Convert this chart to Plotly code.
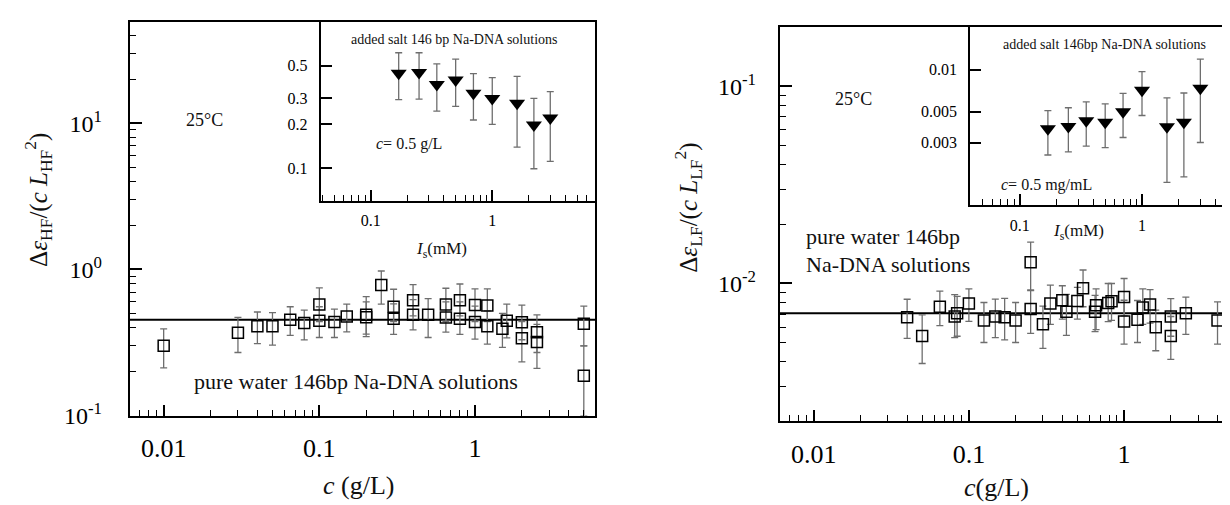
import plotly.graph_objects as go
import numpy as np

W, H = 1230, 505
FONT = "Liberation Serif, Times New Roman, Times, DejaVu Serif, serif"

# ---------------- data ----------------
# left main panel: HF amplitude, pure water
hf_c = [0.01, 0.03, 0.04, 0.05, 0.065, 0.08, 0.10, 0.10, 0.125, 0.15, 0.20, 0.20, 0.25,
        0.30, 0.30, 0.40, 0.40, 0.50, 0.65, 0.65, 0.80, 0.80, 1.0, 1.0, 1.2, 1.2, 1.5, 1.6,
        2.0, 2.0, 2.5, 2.5, 5.0, 5.0]
hf_val = [0.30, 0.369, 0.408, 0.408, 0.452, 0.43, 0.575, 0.445, 0.436, 0.476, 0.489, 0.47, 0.782,
          0.555, 0.46, 0.615, 0.489, 0.489, 0.575, 0.469, 0.615, 0.46, 0.57, 0.436, 0.567, 0.408,
          0.392, 0.445, 0.434, 0.338, 0.372, 0.319, 0.425, 0.187]
hf_hi = [0.392, 0.469, 0.511, 0.506, 0.555, 0.527, 0.747, 0.555, 0.535, 0.578, 0.65, 0.60, 0.975,
         0.731, 0.58, 0.786, 0.62, 0.631, 0.743, 0.60, 0.794, 0.60, 0.735, 0.56, 0.735, 0.52,
         0.50, 0.578, 0.57, 0.44, 0.488, 0.42, 0.56, 0.30]
hf_lo = [0.212, 0.27, 0.31, 0.303, 0.354, 0.329, 0.44, 0.342, 0.342, 0.374, 0.36, 0.347, 0.578,
         0.44, 0.359, 0.48, 0.386, 0.342, 0.44, 0.372, 0.48, 0.359, 0.44, 0.333, 0.44, 0.308,
         0.293, 0.34, 0.33, 0.233, 0.27, 0.21, 0.30, 0.10]
hf_ref = 0.452

# left inset: HF, added salt
salt_is = [0.17, 0.25, 0.35, 0.5, 0.7, 1.0, 1.6, 2.2, 3.0]
hf_salt = [0.445, 0.45, 0.372, 0.40, 0.325, 0.299, 0.277, 0.197, 0.22]
hf_salt_hi = [0.613, 0.613, 0.514, 0.555, 0.442, 0.415, 0.423, 0.299, 0.333]
hf_salt_lo = [0.293, 0.296, 0.245, 0.264, 0.213, 0.199, 0.139, 0.099, 0.111]

# right main panel: LF amplitude, pure water
lf_c = [0.040, 0.050, 0.065, 0.081, 0.084, 0.10, 0.125, 0.148, 0.17, 0.20, 0.25, 0.25, 0.30,
        0.335, 0.40, 0.425, 0.50, 0.544, 0.66, 0.65, 0.79, 0.83, 1.0, 1.0, 1.22, 1.32, 1.47,
        1.6, 2.0, 2.0, 2.5, 4.0, 4.8]
lf_val = [0.00675, 0.00542, 0.00762, 0.0068, 0.00706, 0.00791, 0.0065, 0.0068, 0.00675, 0.0065,
          0.0128, 0.00742, 0.00621, 0.00791, 0.00822, 0.00719, 0.00815, 0.00946, 0.00776, 0.00719,
          0.00797, 0.00812, 0.00853, 0.00642, 0.00654, 0.00756, 0.00783, 0.006, 0.0068, 0.00542,
          0.00706, 0.0065, 0.0067]
lf_hi = [0.00832, 0.00693, 0.00914, 0.00877, 0.0086, 0.00938, 0.00801, 0.00834, 0.0084, 0.00801,
         0.0162, 0.00928, 0.00768, 0.00982, 0.00974, 0.0088, 0.00956, 0.0117, 0.0094, 0.0087,
         0.0100, 0.0100, 0.0106, 0.00822, 0.0082, 0.00938, 0.0093, 0.00733, 0.00838, 0.0068,
         0.00853, 0.00806, 0.0083]
lf_lo = [0.00527, 0.00393, 0.00611, 0.00532, 0.0054, 0.00642, 0.00502, 0.00532, 0.00518, 0.00502,
         0.0092, 0.00558, 0.00469, 0.0062, 0.00659, 0.00546, 0.00659, 0.00762, 0.00584, 0.0057,
         0.0064, 0.0065, 0.00685, 0.00493, 0.00502, 0.0062, 0.0063, 0.00456, 0.0054, 0.00412,
         0.00552, 0.00493, 0.0053]
lf_ref = 0.00706

# right inset: LF, added salt
lf_salt = [0.00376, 0.00391, 0.0043, 0.00419, 0.00498, 0.00713, 0.00389, 0.00419, 0.00736]
lf_salt_hi = [0.00508, 0.00533, 0.00587, 0.00569, 0.00675, 0.00968, 0.00627, 0.0068, 0.0119]
lf_salt_lo = [0.00244, 0.00257, 0.00283, 0.00276, 0.00326, 0.00469, 0.00155, 0.0017, 0.0030]

# tick labels
main_x_ticks = [0.01, 0.1, 1]
main_x_text = ["0.01", "0.1", "1"]
hf_y_ticks = [0.1, 1, 10]
hf_y_text = ["10<sup>-1</sup>", "10<sup>0</sup>", "10<sup>1</sup>"]
lf_y_ticks = [0.01, 0.1]
lf_y_text = ["10<sup>-2</sup>", "10<sup>-1</sup>"]
inset_x_ticks = [0.1, 1]
inset_x_text = ["0.1", "1"]
hf_inset_y_ticks = [0.1, 0.2, 0.3, 0.5]
hf_inset_y_text = ["0.1", "0.2", "0.3", "0.5"]
lf_inset_y_ticks = [0.003, 0.005, 0.01]
lf_inset_y_text = ["0.003", "0.005", "0.01"]


def minors(lo_exp, hi_exp):
    return [m * 10.0 ** e for e in range(lo_exp, hi_exp + 1) for m in range(2, 10)]


def px(x):
    return x / W


def py(y):
    return 1 - y / H


def err(val, hi, lo):
    v = np.array(val)
    return dict(type="data", symmetric=False, array=list(np.array(hi) - v),
                arrayminus=list(v - np.array(lo)), color="#6e6e6e", thickness=1.3, width=3.5)


fig = go.Figure()

# left main
fig.add_trace(go.Scatter(x=[1e-4, 1e3], y=[hf_ref, hf_ref], mode="lines",
                         line=dict(color="black", width=2), xaxis="x", yaxis="y",
                         showlegend=False, hoverinfo="skip"))
fig.add_trace(go.Scatter(x=hf_c, y=hf_val, mode="markers", xaxis="x", yaxis="y",
                         marker=dict(symbol="square-open", size=11, color="black",
                                     line=dict(width=1.5, color="black")),
                         error_y=err(hf_val, hf_hi, hf_lo), showlegend=False))
# left inset
fig.add_trace(go.Scatter(x=salt_is, y=hf_salt, mode="markers", xaxis="x2", yaxis="y2",
                         marker=dict(symbol="triangle-down", size=14, color="black"),
                         error_y=err(hf_salt, hf_salt_hi, hf_salt_lo), showlegend=False))
# right main
fig.add_trace(go.Scatter(x=[1e-4, 1e3], y=[lf_ref, lf_ref], mode="lines",
                         line=dict(color="black", width=2), xaxis="x3", yaxis="y3",
                         showlegend=False, hoverinfo="skip"))
fig.add_trace(go.Scatter(x=lf_c, y=lf_val, mode="markers", xaxis="x3", yaxis="y3",
                         marker=dict(symbol="square-open", size=11, color="black",
                                     line=dict(width=1.5, color="black")),
                         error_y=err(lf_val, lf_hi, lf_lo), showlegend=False))
# right inset
fig.add_trace(go.Scatter(x=salt_is, y=lf_salt, mode="markers", xaxis="x4", yaxis="y4",
                         marker=dict(symbol="triangle-down", size=14, color="black"),
                         error_y=err(lf_salt, lf_salt_hi, lf_salt_lo), showlegend=False))


def axis(domain, rng, tickvals, ticktext, minor_vals, size, ticklen, standoff, mirror=True, anchor=None):
    d = dict(type="log", domain=domain, range=rng, showline=True, linecolor="black", linewidth=2,
             mirror=mirror, ticks="inside", ticklen=ticklen, tickwidth=1.5, tickcolor="black",
             showgrid=False, zeroline=False, tickmode="array", tickvals=tickvals, ticktext=ticktext,
             tickfont=dict(family=FONT, size=size, color="black"), ticklabelstandoff=standoff,
             fixedrange=True)
    if minor_vals:
        d["minor"] = dict(ticks="inside", ticklen=6, tickwidth=1.2, tickcolor="black",
                          tickmode="array", tickvals=minor_vals, showgrid=False)
    if anchor:
        d["anchor"] = anchor
    return d


xr_main = [np.log10(0.00605), np.log10(5.9)]
fig.update_layout(
    width=W, height=H, margin=dict(l=0, r=0, t=0, b=0),
    paper_bgcolor="white", plot_bgcolor="white", showlegend=False,
    font=dict(family=FONT, color="black"),
    xaxis=axis([px(121.7), px(587)], xr_main, main_x_ticks, main_x_text,
               minors(-3, 0), 26, 11, 8, anchor="y"),
    yaxis=axis([py(418.3), py(14)], [-1, 1.695], hf_y_ticks, hf_y_text,
               minors(-1, 1), 24, 12, 21, anchor="x"),
    xaxis2=axis([px(312.7), px(587)], [-1.411, 0.845], inset_x_ticks, inset_x_text,
                minors(-2, 0), 16, 11, 4, anchor="y2"),
    yaxis2=axis([py(198.3), py(14)], [-1.226, 0.0], hf_inset_y_ticks, hf_inset_y_text,
                None, 16, 11, 8, anchor="x2"),
    xaxis3=axis([px(771.7), 1.0], [-2.219, 0.734], main_x_ticks, main_x_text,
                minors(-3, 0), 26, 11, 8, anchor="y3"),
    yaxis3=axis([py(424.3), py(19.3)], [np.log10(0.002), np.log10(0.2)], lf_y_ticks, lf_y_text,
                minors(-3, -1), 24, 12, 17, mirror=False, anchor="x3"),
    xaxis4=axis([px(962.3), 1.0], [-1.404, 0.785], inset_x_ticks, inset_x_text,
                minors(-2, 0), 16, 11, 4, anchor="y4"),
    yaxis4=axis([py(202.7), py(19.3)], [-2.975, -1.692], lf_inset_y_ticks, lf_inset_y_text,
                None, 16, 11, 8, mirror=False, anchor="x4"),
)


def note(text, x, y, size, angle=0, xanchor="center"):
    fig.add_annotation(text=text, x=px(x), y=py(y), xref="paper", yref="paper",
                       showarrow=False, textangle=angle, xanchor=xanchor, yanchor="middle",
                       font=dict(family=FONT, size=size, color="#111"))


# axis titles
note("<i>c</i> (g/L)", 350, 490, 26)
note("<i>c</i>(g/L)", 988, 492, 26)
note("Δ<i>ε</i><sub>HF</sub>/(<i>c L</i><sub>HF</sub><sup>2</sup>)", 30, 197, 25, angle=-90)
note("Δ<i>ε</i><sub>LF</sub>/(<i>c L</i><sub>LF</sub><sup>2</sup>)", 680, 205, 25, angle=-90)
note("<i>I</i><sub>s</sub>(mM)", 433, 248, 17)
note("<i>I</i><sub>s</sub>(mM)", 1070, 230, 17)

# in-plot texts
note("25°C", 196, 115, 18)
note("25°C", 846, 93, 18)
note("pure water 146bp Na-DNA solutions", 348, 383, 22)
note("pure water 146bp", 796, 235, 22, xanchor="left")
note("Na-DNA solutions", 796, 263, 22, xanchor="left")
note("added salt 146 bp Na-DNA solutions", 446, 32, 14)
note("added salt 146bp Na-DNA solutions", 1096, 37, 14)
note("<i>c</i>= 0.5 g/L", 401, 140, 16)
note("<i>c</i>= 0.5 mg/mL", 1038, 182, 16)

fig.write_html("out.html")
